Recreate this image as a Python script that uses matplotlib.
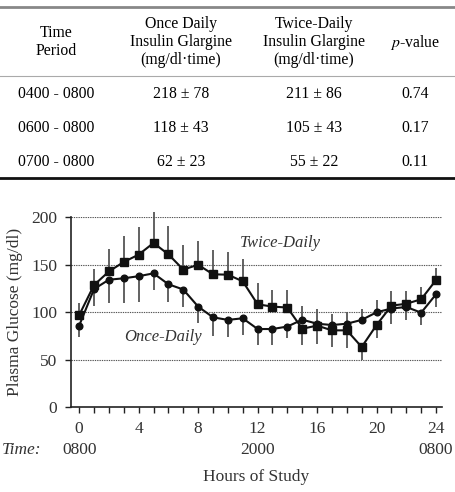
import numpy as np
import matplotlib.pyplot as plt

plt.rcParams['font.family'] = ['Liberation Serif', 'DejaVu Serif']
plt.rcParams['mathtext.fontset'] = 'stix'

# table data
periods = ['0400 - 0800', '0600 - 0800', '0700 - 0800']
once_auc = ['218 \u00b1 78', '118 \u00b1 43', '62 \u00b1 23']
twice_auc = ['211 \u00b1 86', '105 \u00b1 43', '55 \u00b1 22']
p_vals = ['0.74', '0.17', '0.11']
headers = ['Time\nPeriod',
           'Once Daily\nInsulin Glargine\n(mg/dl\u00b7time)',
           'Twice-Daily\nInsulin Glargine\n(mg/dl\u00b7time)',
           '$p$-value']

# chart data
hours = np.arange(25)
once = [86, 124.5, 134.3, 135.8, 138, 141, 129.5, 124, 106, 94.7, 92, 93.7, 82.4,
        82.4, 85, 92.2, 88, 86.6, 88, 92, 100, 104, 105.6, 99.6, 119]
twice = [97, 128.7, 143, 153, 160.7, 173, 161, 145, 150, 140, 139.6, 132.6, 108.4,
         106, 105, 82.7, 86, 81, 81, 63.5, 86.6, 107, 109, 113.7, 134]
twice_err_up = [13, 17, 24, 27, 29, 33, 30, 26, 25, 26, 24, 23, 22, 17.5, 18.5,
                0, 0, 0, 0, 0, 0, 15, 13, 13, 13]
twice_err_lo = [0] * 15 + [17, 19, 18, 19, 13.5, 14] + [0] * 4
once_err_lo = [12, 18, 24, 26, 27, 17.5, 18.5, 18, 17, 20, 18, 18, 17, 17, 12.5,
               0, 0, 0, 0, 0, 0, 16, 14, 13, 13]
once_err_up = [0] * 15 + [14, 16, 12, 12.6, 12, 13] + [0] * 4
x_ticks = [0, 4, 8, 12, 16, 20, 24]
clock_labels = {0: '0800', 12: '2000', 24: '0800'}

W, H = 456, 492
fig = plt.figure(figsize=(W / 100, H / 100), dpi=100)

# table drawn in pixel coordinates on an overlay axes
tab = fig.add_axes([0, 0, 1, 1])
tab.set_xlim(0, W)
tab.set_ylim(H, 0)
tab.axis('off')
col_x = [56, 181, 314, 415]
tab.axhline(7, color='#888888', lw=2)
tab.axhline(76, color='#aaaaaa', lw=0.8)
tab.axhline(178, color='#111111', lw=2)
for cx, h in zip(col_x, headers):
    tab.text(cx, 42, h, ha='center', va='center', fontsize=11.3, linespacing=1.15)
row_y = [94, 128, 162]
for i, ry in enumerate(row_y):
    for cx, v in zip(col_x, [periods[i], once_auc[i], twice_auc[i], p_vals[i]]):
        tab.text(cx, ry, v, ha='center', va='center', fontsize=11.3)

# chart
ax = fig.add_axes([71 / W, 1 - 407.3 / H, (442 - 71) / W, (407.3 - 217.3) / H])
ax.patch.set_alpha(0)
txt = '#333333'
for yv in [50, 100, 150, 200]:
    ax.axhline(yv, color='#555555', lw=0.8, ls=(0, (1.2, 0.9)), zorder=0)

ax.errorbar(hours, twice, yerr=[twice_err_lo, twice_err_up], fmt='none',
            ecolor='#555555', elinewidth=1.3, capsize=0, clip_on=False, zorder=1)
ax.errorbar(hours, once, yerr=[once_err_lo, once_err_up], fmt='none',
            ecolor='#555555', elinewidth=1.3, capsize=0, clip_on=False, zorder=1)
ax.plot(hours, twice, color='#111111', lw=1.5, marker='s', ms=5.2, zorder=3, clip_on=False)
ax.plot(hours, once, color='#111111', lw=1.5, marker='o', ms=4.8, zorder=3, clip_on=False)

ax.text(13.5, 173, 'Twice-Daily', style='italic', fontsize=12, color=txt,
        ha='center', va='center')
ax.text(5.66, 74, 'Once-Daily', style='italic', fontsize=12, color=txt,
        ha='center', va='center')

ax.set_xlim(-0.55, 24.4)
ax.set_ylim(0, 200)
for s in ['top', 'right']:
    ax.spines[s].set_visible(False)
for s in ['left', 'bottom']:
    ax.spines[s].set_color('#222222')
    ax.spines[s].set_linewidth(1.2)
ax.set_yticks([0, 50, 100, 150, 200])
ax.set_xticks(x_ticks)
ax.set_xticks(hours, minor=True)
ax.tick_params(axis='both', which='both', direction='out', length=4, width=1,
               color='#222222', labelsize=12.5, labelcolor=txt)
ax.tick_params(axis='x', pad=6)
ax.tick_params(axis='y', pad=6)
ax.set_ylabel('Plasma Glucose (mg/dl)', fontsize=12.5, color=txt, labelpad=6)

# clock time row and x label
for hx, lab in clock_labels.items():
    ax.annotate(lab, xy=(hx, 0), xycoords=('data', 'axes fraction'),
                xytext=(0, -43), textcoords='offset pixels',
                ha='center', va='center', fontsize=12.5, color=txt)
fig.text(2 / W, 1 - 450 / H, 'Time:', style='italic', fontsize=12.5, color=txt,
         ha='left', va='center')
fig.text(0.5 * (71 + 442) / W, 1 - 477 / H, 'Hours of Study', fontsize=12.5,
         color=txt, ha='center', va='center')

fig.savefig('out.png', dpi=100)
